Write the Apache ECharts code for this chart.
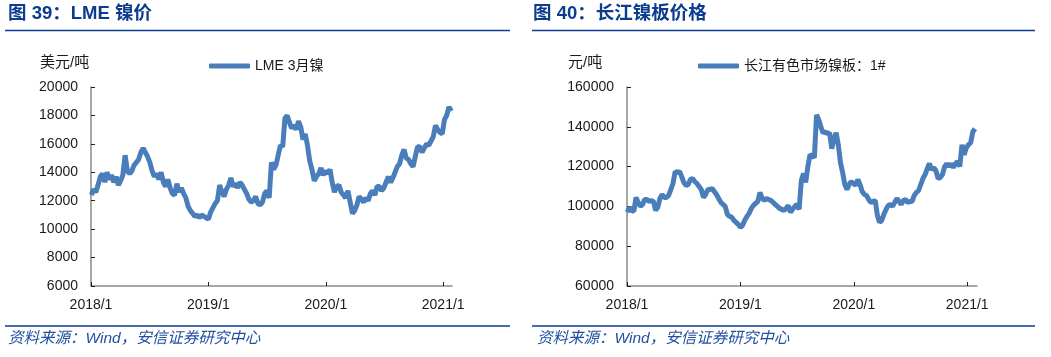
<!DOCTYPE html>
<html>
<head>
<meta charset="utf-8">
<script src="https://cdn.jsdelivr.net/npm/echarts@6/dist/echarts.min.js"></script>
<style>
html,body{margin:0;padding:0;background:#fff;}
#c{width:1051px;height:357px;}
</style>
</head>
<body>
<div id="c"></div>
<script>
// ---- Data (weekly readings, starting first week of 2018) ----
var startDate = '2018-01-02';
var xTickYears = [2018, 2019, 2020, 2021];

// LME 3-month nickel, USD/t
var lmeNickel = [
12400,12800,12600,13100,13700,13900,13300,14000,13500,13800,
13300,13700,13100,13400,13800,15200,14100,13900,14100,14500,
14700,14900,15400,15700,15400,15100,14700,14100,13700,13900,
13500,14000,13300,13000,13500,12900,12500,12400,13200,12600,
12900,12500,12200,11600,11300,11100,10900,11000,10800,11000,
10900,10800,10700,11200,11500,11800,12000,13100,12600,12300,
12800,13100,13600,13000,13200,12900,13300,13100,12800,12500,
12100,11900,12000,12300,11800,11700,11900,12500,12700,12200,
14700,14200,14500,15200,15900,15800,17800,18000,17500,17100,
17300,17000,17600,17200,16300,16700,15900,14800,14200,13400,
13700,13900,14300,13800,14100,13900,14200,13300,12600,13000,
13100,12600,12400,12200,12700,11900,11100,11300,11700,12300,
12100,11900,12200,12000,12500,12700,12400,13000,13000,12700,
12900,13300,13700,13300,13600,14000,14400,14600,15200,15600,
15000,14900,14600,14400,15100,15800,15800,15400,15700,16000,
15900,16200,16500,17300,17000,16800,16700,17700,18000,18600,
18300
];

// Changjiang nonferrous market 1# nickel plate, CNY/t
var cjNickel = [
97000,99500,98000,97500,104500,102000,100000,101000,103500,103500,
102500,103000,102500,98000,99500,104000,106000,104500,104500,105500,
108500,111500,117500,117000,117500,115000,112000,110500,111000,113500,
114000,112500,111500,110000,108500,104500,106000,108500,108500,109000,
107500,106000,104000,102000,101000,100000,96000,95000,94500,93000,
92000,91000,89500,90500,93000,95000,96500,99000,100500,101500,
102500,107000,104000,103000,104000,103500,103000,102000,101000,100000,
99000,98500,98000,99000,100500,97000,98500,100000,101000,98500,
113000,116500,112000,120000,126000,125500,124500,146000,143500,140000,
137000,137500,136500,137000,129000,134000,137000,131000,122000,117000,
111000,108500,111000,112500,111500,110500,113500,111000,107500,106000,
105500,103500,102000,102500,103000,95500,92000,93000,96000,98500,
100500,101000,100000,102000,104000,102500,101000,103000,103500,102000,
102500,102500,105500,107000,108000,111000,114000,116000,119000,121500,
118500,119500,118000,114000,114500,116000,120000,121500,120000,121500,
119500,121500,122500,120000,131000,126000,129500,131000,132000,137500,
139000
];

var lmeTicks = {min: 6000, max: 20000, interval: 2000};
var cjTicks = {min: 60000, max: 160000, interval: 20000};

// ---- helpers ----
function weekToYear(i) {
  var d = new Date(startDate + 'T00:00:00Z');
  d.setUTCDate(d.getUTCDate() + 7 * i);
  var y = d.getUTCFullYear();
  var y0 = Date.UTC(y, 0, 1), y1 = Date.UTC(y + 1, 0, 1);
  return y + (d.getTime() - y0) / (y1 - y0);
}
function toPairs(arr) { return arr.map(function (v, i) { return [weekToYear(i), v]; }); }

var FONT = 'Liberation Sans, Arial, Noto Sans CJK SC, sans-serif';
var BLUE = '#0c3c8e';
var LINE = '#4a7ebb';

function xAxisOf(gi, max) {
  return {
    type: 'value', gridIndex: gi, min: 2018, max: max, interval: 1,
    axisLine: {show: true, lineStyle: {color: '#8a8a8a', width: 1.5}},
    axisTick: {show: true, inside: true, length: 4, lineStyle: {color: '#222'}, customValues: xTickYears},
    axisLabel: {customValues: xTickYears, formatter: function (v) { return Math.round(v) + '/1'; },
      color: '#1a1a1a', fontSize: 14, fontFamily: FONT, margin: 12},
    splitLine: {show: false}
  };
}
function yAxisOf(gi, t) {
  return {
    type: 'value', gridIndex: gi, min: t.min, max: t.max, interval: t.interval,
    axisLine: {show: true, lineStyle: {color: '#8a8a8a', width: 1.5}},
    axisTick: {show: true, inside: true, length: 4, lineStyle: {color: '#222'}},
    axisLabel: {color: '#1a1a1a', fontSize: 14, fontFamily: FONT, margin: 13,
      formatter: function (v) { return String(v); }},
    splitLine: {show: false}
  };
}

var chart = echarts.init(document.getElementById('c'), null, {renderer: 'canvas'});
chart.setOption({
  animation: false,
  backgroundColor: '#fff',
  grid: [
    {left: 91, top: 87, width: 361, height: 199},
    {left: 627, top: 87, width: 350, height: 199}
  ],
  xAxis: [xAxisOf(0, 2021.075), xAxisOf(1, 2021.086)],
  yAxis: [yAxisOf(0, lmeTicks), yAxisOf(1, cjTicks)],
  legend: [
    {data: ['LME 3月镍'], left: 209, top: 59, padding: 0, itemWidth: 41, itemHeight: 5, icon: 'roundRect',
     textStyle: {fontSize: 14, fontFamily: FONT, color: '#1a1a1a'}},
    {data: ['长江有色市场镍板：1#'], left: 698, top: 59, padding: 0, itemWidth: 41, itemHeight: 5, icon: 'roundRect',
     textStyle: {fontSize: 14, fontFamily: FONT, color: '#1a1a1a'}}
  ],
  series: [
    {name: 'LME 3月镍', type: 'line', xAxisIndex: 0, yAxisIndex: 0, data: toPairs(lmeNickel),
     showSymbol: false, lineStyle: {color: LINE, width: 5}, itemStyle: {color: LINE}},
    {name: '长江有色市场镍板：1#', type: 'line', xAxisIndex: 1, yAxisIndex: 1, data: toPairs(cjNickel),
     showSymbol: false, lineStyle: {color: LINE, width: 5}, itemStyle: {color: LINE}}
  ],
  graphic: [
    {type: 'text', left: 8, top: 5, style: {text: '图 39：LME 镍价', fill: BLUE, font: 'bold 18.5px ' + FONT}},
    {type: 'text', left: 533, top: 5, style: {text: '图 40：长江镍板价格', fill: BLUE, font: 'bold 18.5px ' + FONT}},
    {type: 'line', shape: {x1: 5, y1: 30.5, x2: 510, y2: 30.5}, style: {stroke: BLUE, lineWidth: 1.5}},
    {type: 'line', shape: {x1: 532, y1: 30.5, x2: 1035, y2: 30.5}, style: {stroke: BLUE, lineWidth: 1.5}},
    {type: 'line', shape: {x1: 5, y1: 326, x2: 510, y2: 326}, style: {stroke: BLUE, lineWidth: 1.5}},
    {type: 'line', shape: {x1: 532, y1: 326, x2: 1035, y2: 326}, style: {stroke: BLUE, lineWidth: 1.5}},
    {type: 'text', left: 40, top: 55, style: {text: '美元/吨', fill: '#1a1a1a', font: '15px ' + FONT}},
    {type: 'text', left: 568, top: 55, style: {text: '元/吨', fill: '#1a1a1a', font: '15px ' + FONT}},
    {type: 'text', left: 8, top: 331, style: {text: '资料来源：Wind，安信证券研究中心', fill: '#2050a0', font: 'italic 15.5px ' + FONT}},
    {type: 'text', left: 537, top: 331, style: {text: '资料来源：Wind，安信证券研究中心', fill: '#2050a0', font: 'italic 15.5px ' + FONT}}
  ]
});
</script>
</body>
</html>
